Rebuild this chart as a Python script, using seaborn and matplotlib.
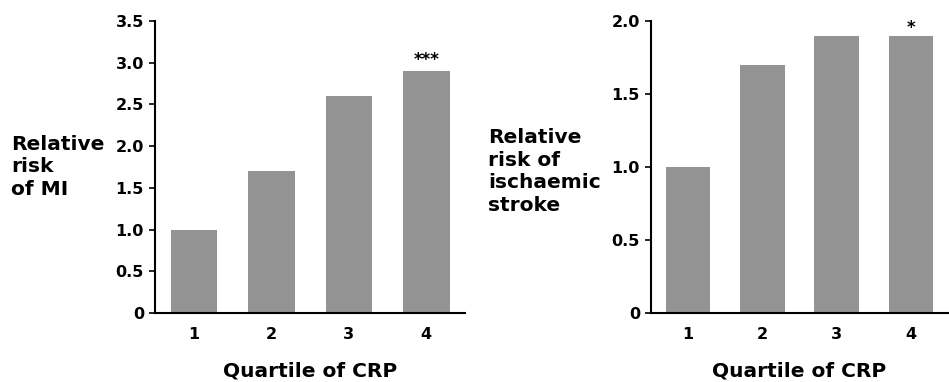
import matplotlib
matplotlib.use("Agg")
import matplotlib.pyplot as plt
import seaborn as sns
import pandas as pd

quartiles = ["1", "2", "3", "4"]
mi_risk = [1.0, 1.7, 2.6, 2.9]
stroke_risk = [1.0, 1.7, 1.9, 1.9]
mi_ticks = [0, 0.5, 1.0, 1.5, 2.0, 2.5, 3.0, 3.5]
mi_ticklabels = ["0", "0.5", "1.0", "1.5", "2.0", "2.5", "3.0", "3.5"]
stroke_ticks = [0, 0.5, 1.0, 1.5, 2.0]
stroke_ticklabels = ["0", "0.5", "1.0", "1.5", "2.0"]
mi_label = "Relative\nrisk\nof MI"
stroke_label = "Relative\nrisk of\nischaemic\nstroke"
xlabel = "Quartile of CRP"
mi_sig = "***"
stroke_sig = "*"

sns.set_style("ticks")
plt.rcParams["font.family"] = ["DejaVu Sans"]
plt.rcParams["font.weight"] = "bold"
plt.rcParams["text.color"] = "black"
plt.rcParams["xtick.color"] = "black"
plt.rcParams["ytick.color"] = "black"
plt.rcParams["axes.labelcolor"] = "black"

fig = plt.figure(figsize=(9.49, 3.82), dpi=100)
ax1 = fig.add_axes([155/949, 1-313/382, (465-155)/949, (313-21)/382])
ax2 = fig.add_axes([651/949, 1-313/382, (948-651)/949, (313-21)/382])

bar_color = "#939393"

def draw(ax, vals, ticks, ticklabels, ylabel, sig, sig_y, label_x, label_y, ymax):
    df = pd.DataFrame({"q": quartiles, "v": vals})
    sns.barplot(data=df, x="q", y="v", ax=ax, color=bar_color, width=0.6,
                saturation=1, edgecolor="none")
    ax.set_ylim(0, ymax)
    ax.set_xlim(-0.5, 3.5)
    ax.set_yticks(ticks)
    ax.set_yticklabels(ticklabels, fontsize=11.5, fontweight="bold")
    ax.tick_params(axis="y", length=4, width=1.2, pad=4)
    ax.tick_params(axis="x", length=0, pad=10, labelsize=11.5)
    for t in ax.get_xticklabels():
        t.set_fontweight("bold")
    for s in ["top", "right"]:
        ax.spines[s].set_visible(False)
    for s in ["left", "bottom"]:
        ax.spines[s].set_linewidth(1.5)
        ax.spines[s].set_color("black")
    ax.set_xlabel(xlabel, fontsize=14.5, fontweight="bold", labelpad=14)
    ax.set_ylabel("")
    ax.text(label_x, label_y, ylabel, transform=ax.transAxes, fontsize=14.5,
            fontweight="bold", ha="left", va="center", linespacing=1.25)
    ax.text(3, sig_y, sig, ha="center", va="center", fontsize=12,
            fontweight="bold")

draw(ax1, mi_risk, mi_ticks, mi_ticklabels, mi_label, mi_sig, 3.03,
     (11-155)/310, 0.5, 3.5)
draw(ax2, stroke_risk, stroke_ticks, stroke_ticklabels, stroke_label,
     stroke_sig, 1.955, (488-651)/297, 0.485, 2.0)

fig.savefig("out.png", dpi=100)
